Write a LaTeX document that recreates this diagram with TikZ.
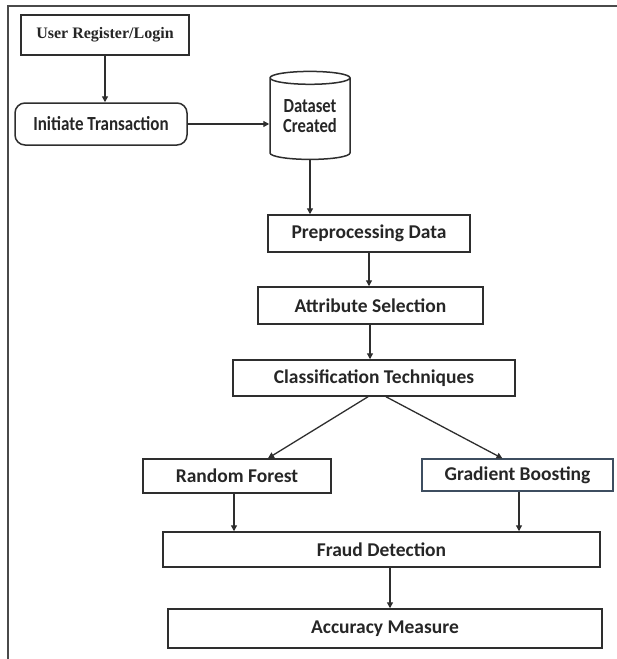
\documentclass[tikz,border=0pt]{standalone}
\usepackage{fontspec}
\setmainfont{Carlito}
\newfontfamily\serifbold{Liberation Serif}
\usetikzlibrary{arrows.meta,shapes.geometric,calc}
\definecolor{linec}{HTML}{2E2E2E}
\definecolor{framec}{HTML}{4A4A4A}
\definecolor{gbc}{HTML}{3E4E60}
\tikzset{
  box/.style={draw=linec, line width=1.5pt, inner sep=0pt, align=center,
    font=\fontsize{19.5}{21}\selectfont\bfseries, text=black!85},
  conn/.style={draw=linec, line width=1.3pt, -{Triangle[length=6pt,width=6pt]}},
}
\begin{document}
\begin{tikzpicture}[x=1pt,y=-1pt]
\useasboundingbox (0,0) rectangle (617,659);
% partial frame
\draw[framec, line width=2pt] (7,5.5) -- (617,5.5);
\draw[framec, line width=2pt] (8,5) -- (8,659);

\node[box, minimum width=168pt, minimum height=40pt,
  font=\serifbold\fontsize{16}{17}\selectfont\bfseries] (user) at (105,35) {User Register/Login};
\node[box, rounded corners=10pt, minimum width=172pt, minimum height=42pt,
  font=\fontsize{20}{21}\selectfont\bfseries] (init) at (101,124) {\scalebox{0.85}[1]{Initiate Transaction}};
\node[box, cylinder, shape border rotate=90, aspect=0.24, minimum width=80pt, minimum height=88pt,
  font=\fontsize{20}{19}\selectfont\bfseries] (ds) at (310,119)
  {\raisebox{-8pt}{\begin{tabular}{@{}c@{}}\scalebox{0.83}[1]{Dataset}\\\scalebox{0.83}[1]{Created}\end{tabular}}};
\node[box, minimum width=202pt, minimum height=37pt] (prep) at (369,233.5) {Preprocessing Data};
\node[box, minimum width=225pt, minimum height=37pt] (attr) at (370.5,305.5) {Attribute Selection};
\node[box, minimum width=282pt, minimum height=36pt] (cls) at (374,378) {Classification Techniques};
\node[box, minimum width=188pt, minimum height=34pt] (rf) at (237,476) {Random Forest};
\node[box, draw=gbc, line width=1.1pt, minimum width=191pt, minimum height=32pt] (gb) at (517.5,475) {Gradient Boosting};
\node[box, minimum width=437pt, minimum height=35pt] (fd) at (381.5,549.5) {Fraud Detection};
\node[box, minimum width=434pt, minimum height=39pt] (acc) at (385,628.5) {Accuracy Measure};

\coordinate (clsL) at ($(cls.south)+(-6,0)$);
\coordinate (clsR) at ($(cls.south)+(12,0)$);
\coordinate (rfT) at ($(rf.north)+(31,0)$);
\coordinate (gbT) at ($(gb.north)+(-15,0)$);
\coordinate (rfB) at ($(rf.south)+(-3,0)$);
\coordinate (gbB) at ($(gb.south)+(1.5,0)$);
\coordinate (fdB) at ($(fd.south)+(8.5,0)$);
\coordinate (attrB) at ($(attr.south)+(-0.5,0)$);

\draw[conn] (user.south) -- (user.south |- init.north);
\draw[conn] (init.east) -- (init.east -| ds.west);
\draw[conn] (ds.south) -- (ds.south |- prep.north);
\draw[conn] (prep.south) -- (prep.south |- attr.north);
\draw[conn] (attrB) -- (attrB |- cls.north);
\draw[conn] (clsL) -- (rfT);
\draw[conn] (clsR) -- (gbT);
\draw[conn] (rfB) -- (rfB |- fd.north);
\draw[conn] (gbB) -- (gbB |- fd.north);
\draw[conn] (fdB) -- (fdB |- acc.north);
\end{tikzpicture}
\end{document}
